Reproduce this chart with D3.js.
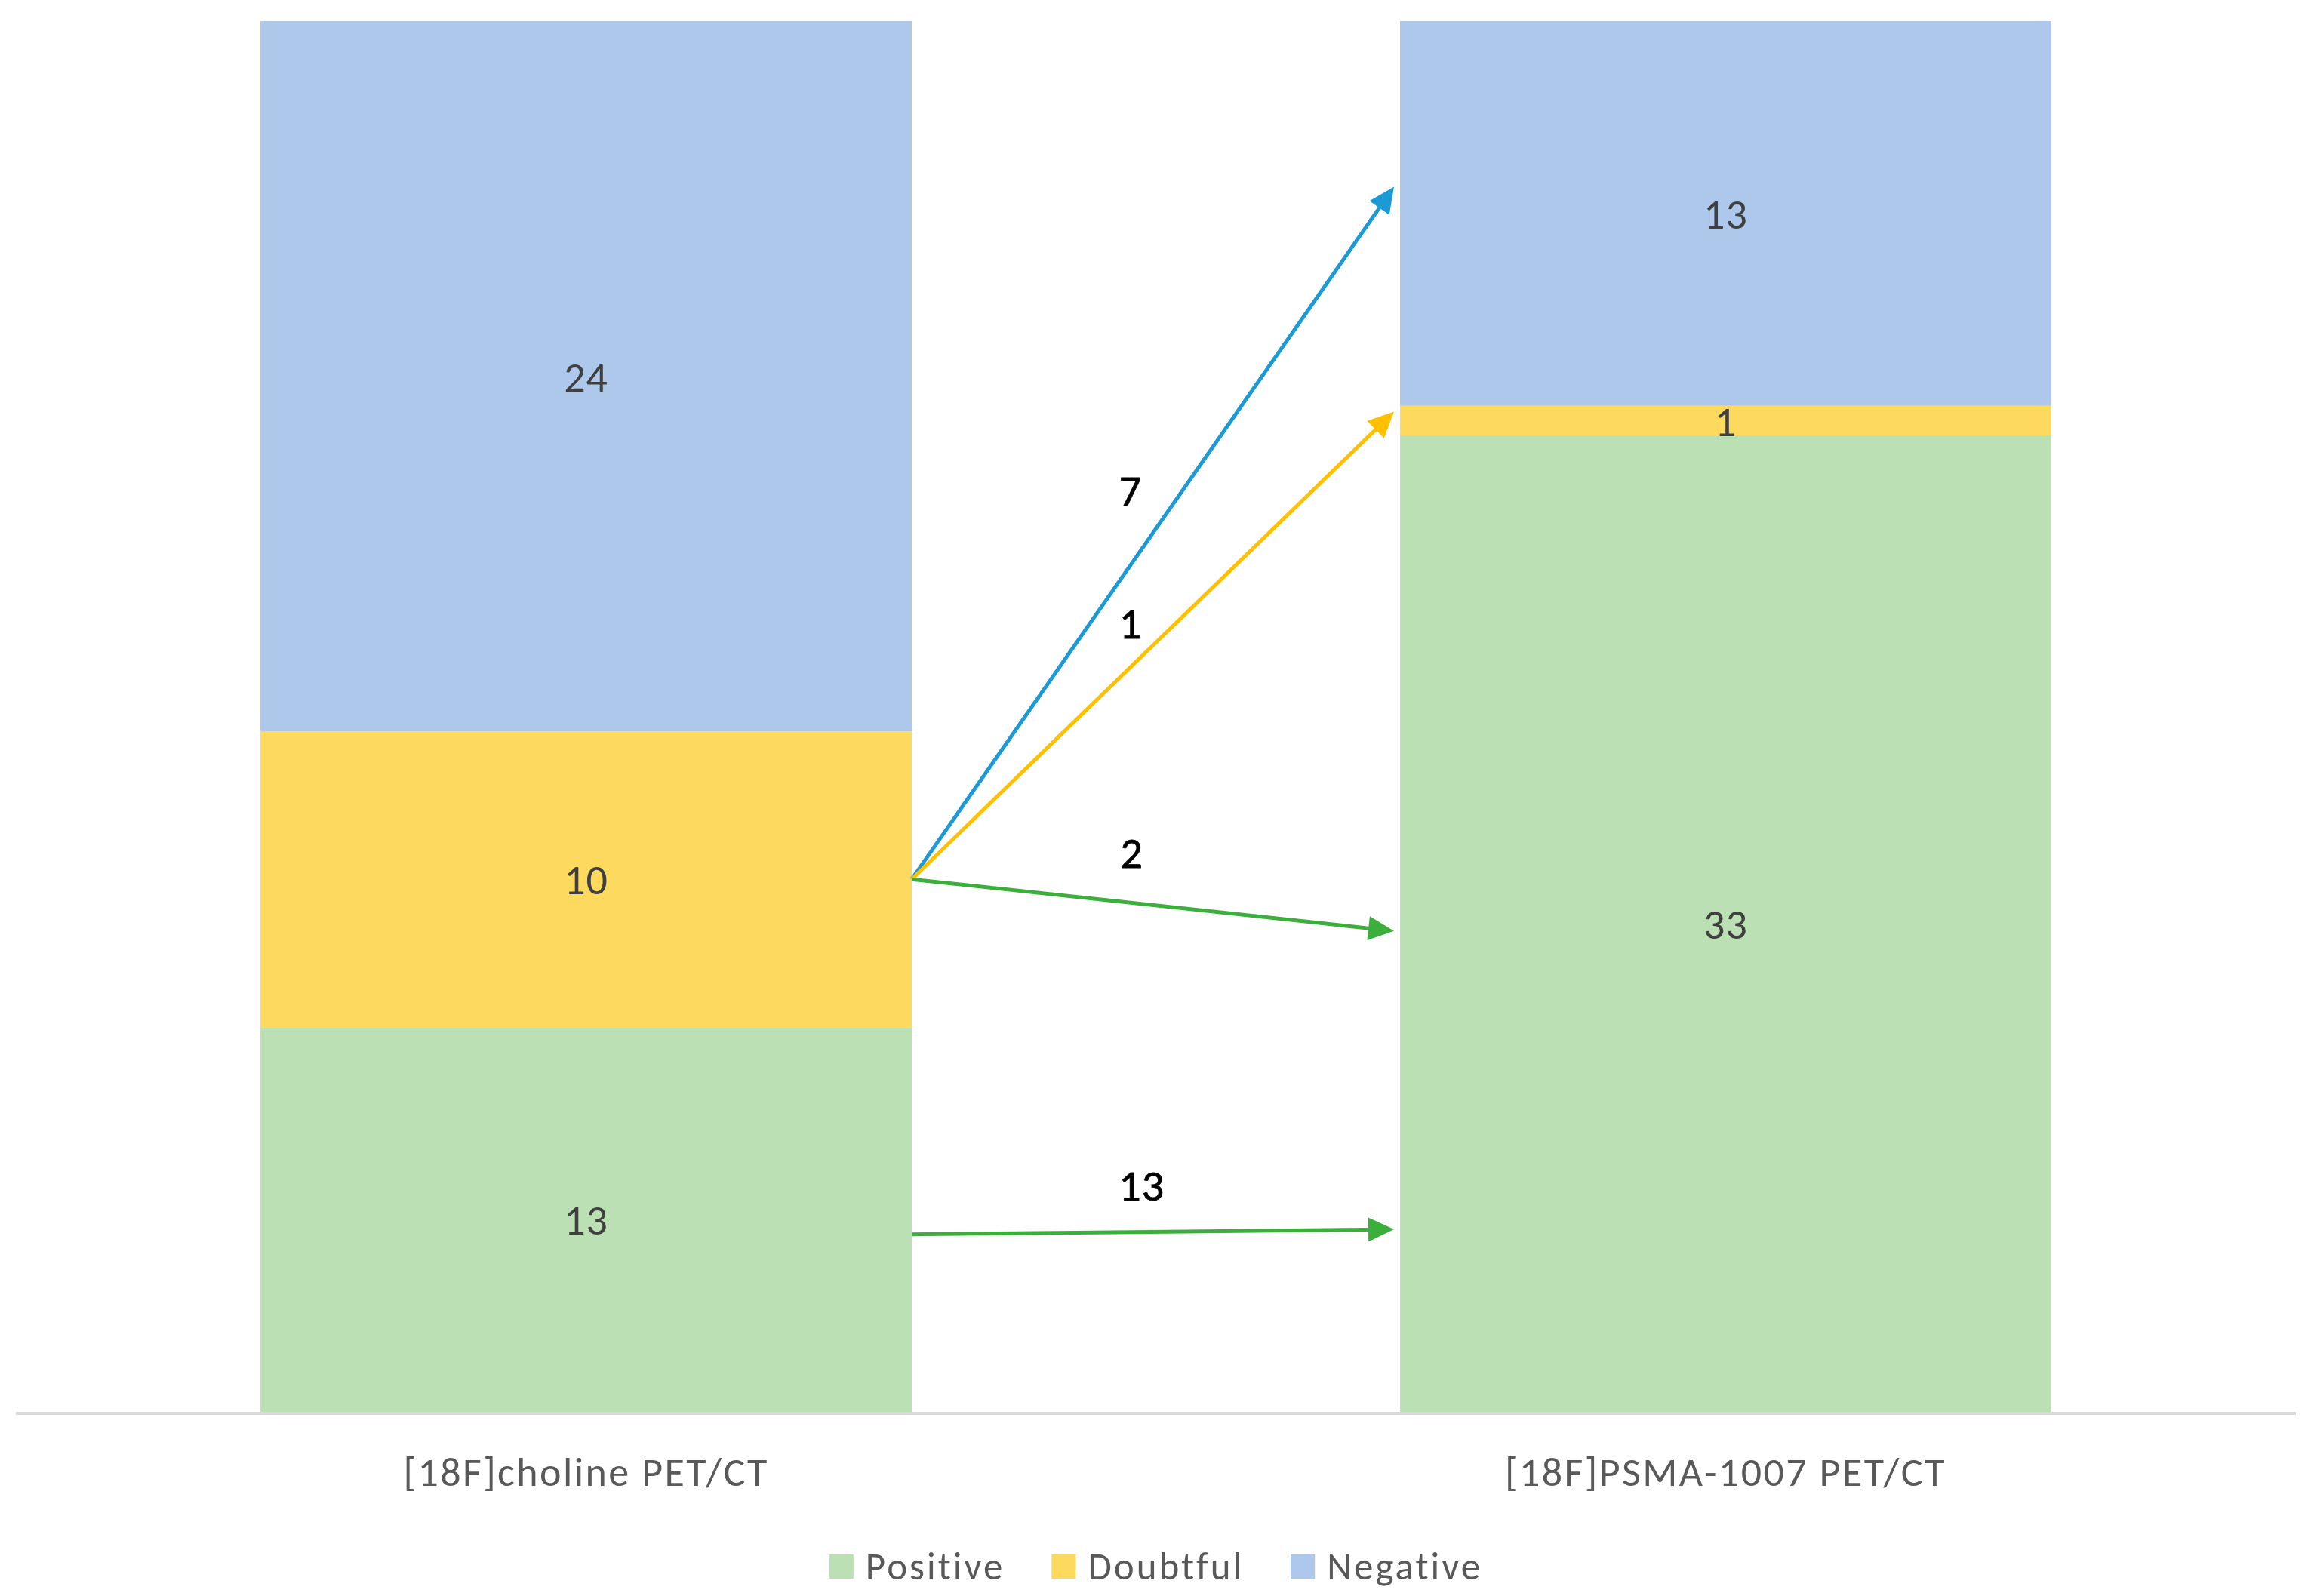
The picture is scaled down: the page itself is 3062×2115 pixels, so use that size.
<!DOCTYPE html>
<html>
<head>
<meta charset="utf-8">
<script src="https://cdn.jsdelivr.net/npm/d3@7"></script>
<style>
  html, body { margin: 0; padding: 0; background: #fff; }
  svg { display: block; }
  text { font-family: Carlito, Lato, "Open Sans", sans-serif; }
</style>
</head>
<body>
<svg id="chart" width="3062" height="2115"></svg>
<script>
// ---- data ----
const categories = ["[18F]choline PET/CT", "[18F]PSMA-1007 PET/CT"];
const seriesNames = ["Positive", "Doubtful", "Negative"];
const positive = [13, 33];
const doubtful = [10, 1];
const negative = [24, 13];

// flows between the two examinations (annotated arrows)
const flowLabels = ["7", "1", "2", "13"];
const flowSeries = ["Negative", "Doubtful", "Positive", "Positive"];
const flowFrom = [18, 18, 18, 6];          // level on the left bar (patients)
const flowTo = [41.4, 33.8, 16.25, 6.17];  // level on the right bar (patients)
const flowLabelLevel = [31.15, 26.66, 18.93, 7.68];
const flowLabelPos = [0.448, 0.448, 0.451, 0.471]; // fraction of the gap between bars

// ---- styles ----
const barColors = { Positive: "#BAE0B3", Doubtful: "#FDD95E", Negative: "#AEC8EB" };
const arrowColors = { Positive: "#3BAE3B", Doubtful: "#FFC000", Negative: "#1C9AD6" };

const W = 3062, H = 2115;
const svg = d3.select("#chart");

const table = categories.map((c, i) => ({
  category: c, Positive: positive[i], Doubtful: doubtful[i], Negative: negative[i]
}));
const total = d3.max(table, d => d.Positive + d.Doubtful + d.Negative);

const x = d3.scaleBand().domain(categories).range([21, 3042])
  .paddingInner(0.4285).paddingOuter(0.2146);
const y = d3.scaleLinear().domain([0, total]).range([1871, 28]);

const stacked = d3.stack().keys(seriesNames)(table);

// bars
const layers = svg.append("g").selectAll("g").data(stacked).join("g")
  .attr("fill", s => barColors[s.key]);
layers.selectAll("rect").data(s => s.map(d => ({ s: s.key, d }))).join("rect")
  .attr("x", o => x(o.d.data.category))
  .attr("width", x.bandwidth())
  .attr("y", o => y(o.d[1]))
  .attr("height", o => y(o.d[0]) - y(o.d[1]));

// value labels
layers.selectAll("text").data(s => s.map(d => ({ s: s.key, d }))).join("text")
  .attr("x", o => x(o.d.data.category) + x.bandwidth() / 2)
  .attr("y", o => y((o.d[0] + o.d[1]) / 2))
  .attr("dy", "0.36em")
  .attr("text-anchor", "middle")
  .attr("fill", "#404040")
  .attr("font-size", 56)
  .attr("letter-spacing", 1)
  .text(o => o.d[1] - o.d[0]);

// category axis
const axisG = svg.append("g").attr("transform", `translate(0,${y(0)})`)
  .call(d3.axisBottom(x).tickSize(0).tickPadding(60));
axisG.select(".domain").attr("stroke", "#D9D9D9").attr("stroke-width", 4)
  .attr("d", `M21,2H3042`);
axisG.selectAll(".tick text").attr("font-size", 54).attr("fill", "#595959")
  .attr("letter-spacing", 2.4)
  .attr("font-family", "Carlito, Lato, 'Open Sans', sans-serif");

// arrows
const x0 = x(categories[0]) + x.bandwidth();
const x1 = x(categories[1]) - 8;
const headLen = 34, headHalf = 16;
const arrows = svg.append("g");
flowLabels.forEach((lab, i) => {
  const sx = x0, sy = y(flowFrom[i]);
  const tx = x1, ty = y(flowTo[i]);
  const dx = tx - sx, dy = ty - sy, L = Math.hypot(dx, dy);
  const ux = dx / L, uy = dy / L;
  const bx = tx - ux * headLen, by = ty - uy * headLen;
  const col = arrowColors[flowSeries[i]];
  arrows.append("line")
    .attr("x1", sx).attr("y1", sy)
    .attr("x2", bx + ux * 2).attr("y2", by + uy * 2)
    .attr("stroke", col).attr("stroke-width", 5);
  arrows.append("path")
    .attr("d", d3.line()([[tx, ty], [bx - uy * headHalf, by + ux * headHalf], [bx + uy * headHalf, by - ux * headHalf]]) + "Z")
    .attr("fill", col);
  arrows.append("text")
    .attr("x", x0 + (x(categories[1]) - x0) * flowLabelPos[i])
    .attr("y", y(flowLabelLevel[i]))
    .attr("dy", "0.36em")
    .attr("text-anchor", "middle")
    .attr("font-size", 58)
    .attr("letter-spacing", 1)
    .attr("stroke", "#000").attr("stroke-width", 0.8)
    .attr("fill", "#000")
    .text(lab);
});

// legend
const legend = svg.append("g");
const items = legend.selectAll("g").data(seriesNames).join("g");
items.append("rect").attr("width", 32).attr("height", 32).attr("y", 2060)
  .attr("fill", d => barColors[d]);
items.append("text").attr("x", 48).attr("y", 2093)
  .attr("font-size", 51).attr("fill", "#595959").attr("letter-spacing", 3).text(d => d);
const widths = [];
items.each(function () {
  const w = 48 + this.querySelector("text").getComputedTextLength();
  widths.push(w);
});
const totalW = d3.sum(widths) + 62 * (widths.length - 1);
let start = (x.range()[0] + x.range()[1]) / 2 - totalW / 2;
items.attr("transform", (d, i) => {
  const t = `translate(${start},0)`;
  start += widths[i] + 62;
  return t;
});
</script>
</body>
</html>
